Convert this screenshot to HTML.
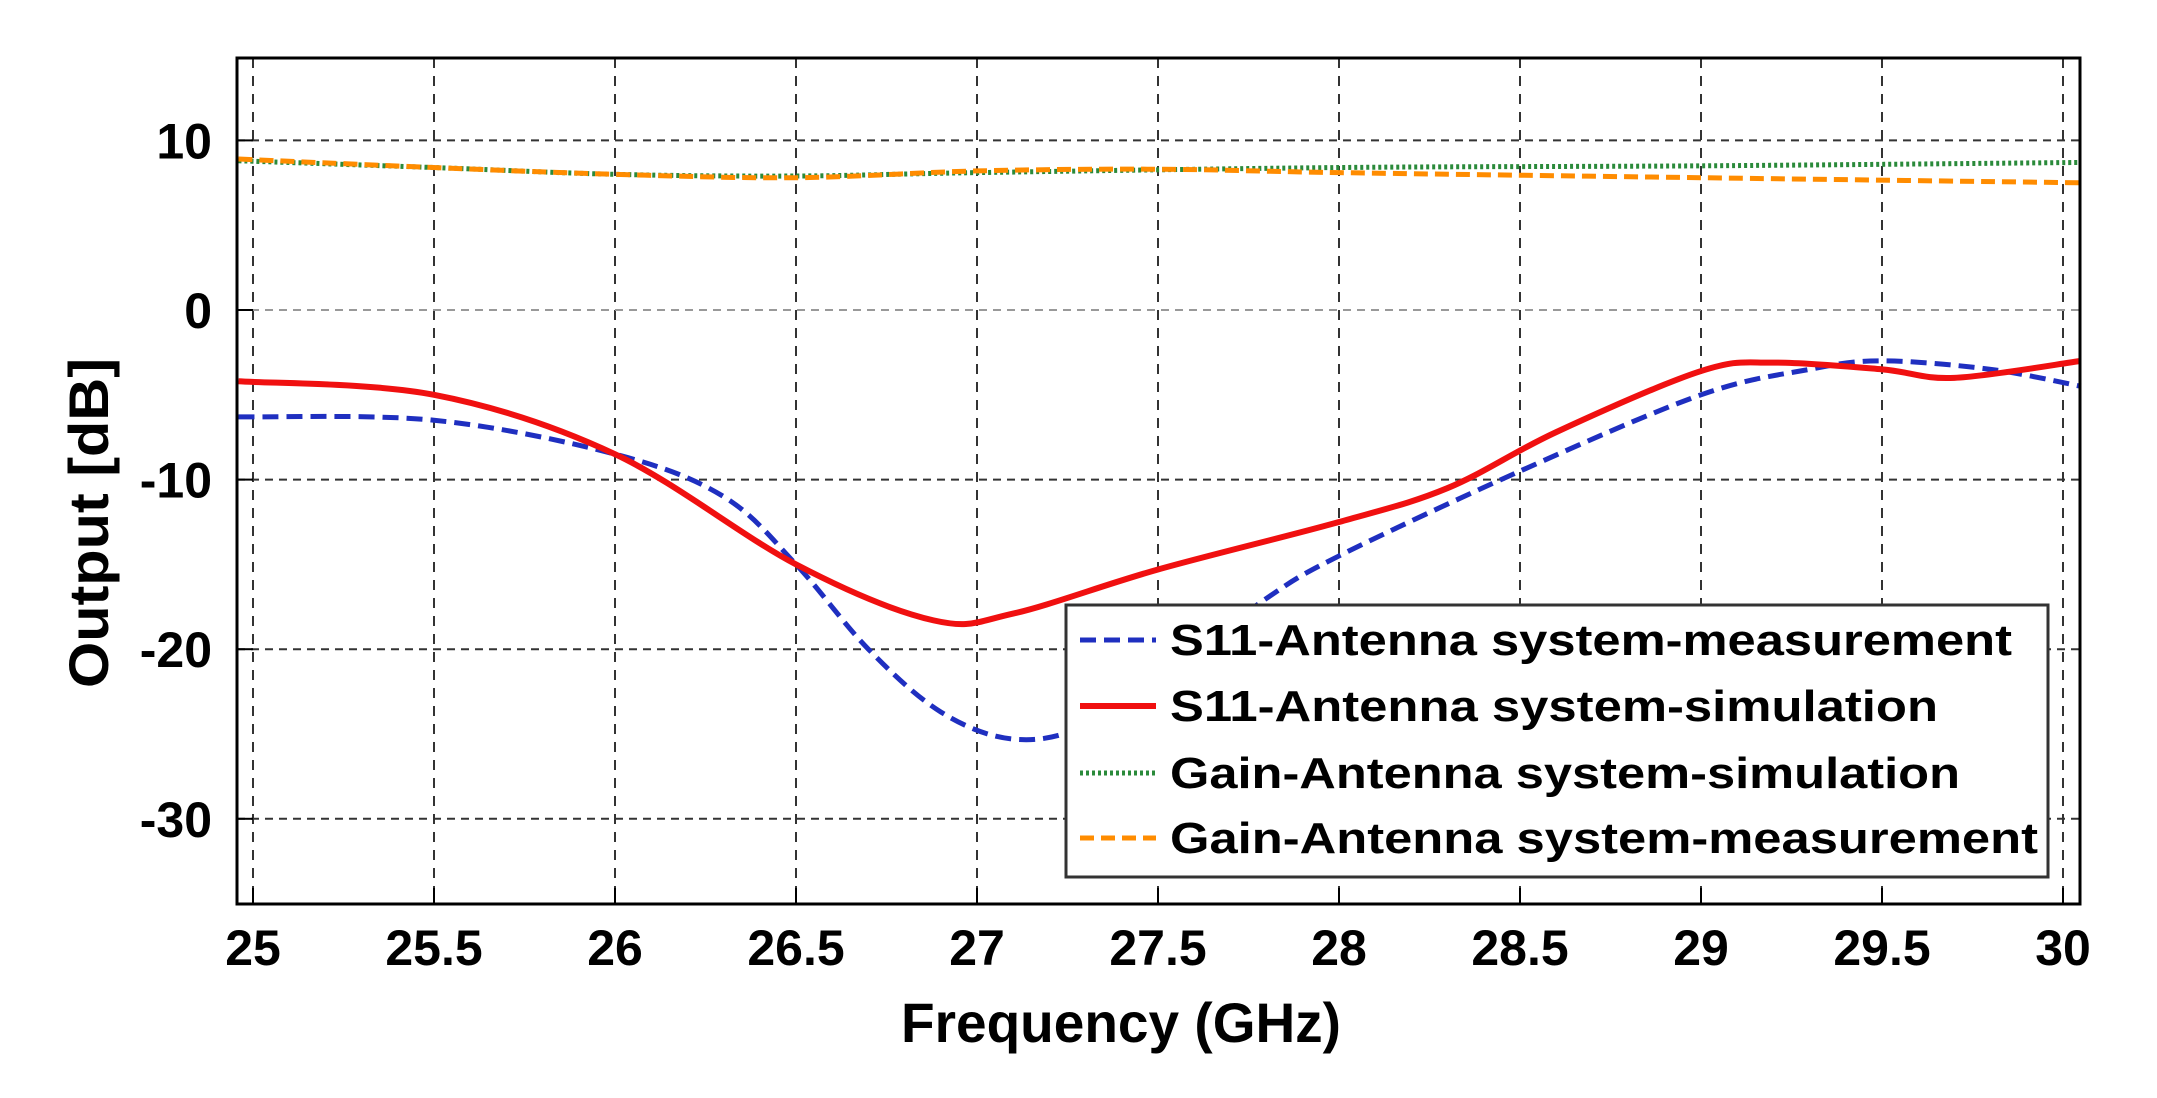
<!DOCTYPE html>
<html><head><meta charset="utf-8"><style>
html,body{margin:0;padding:0;background:#fff;}
svg text{font-family:"Liberation Sans",Arial,sans-serif;font-weight:bold;fill:#000;}
</style></head><body>
<svg id="s" width="2157" height="1093" xmlns="http://www.w3.org/2000/svg">
<rect width="2157" height="1093" fill="#fff"/>
<g id="grid"></g>
<g id="series"></g>
<rect x="237" y="58" width="1843" height="846" fill="none" stroke="#000" stroke-width="3"/>
<g id="ticks"></g>
<g font-size="50" id="labels"></g>
<text x="1121" y="1042" font-size="56" text-anchor="middle" textLength="440" lengthAdjust="spacingAndGlyphs">Frequency (GHz)</text>
<text transform="translate(108,523) rotate(-90)" font-size="56" text-anchor="middle" textLength="330" lengthAdjust="spacingAndGlyphs">Output [dB]</text>
<rect x="1066" y="605" width="982" height="272" fill="#fff" stroke="#333" stroke-width="3"/>
<line x1="1080" y1="640" x2="1156" y2="640" stroke="#1f2fc0" stroke-width="5" stroke-dasharray="16,8"/>
<line x1="1080" y1="706" x2="1156" y2="706" stroke="#f01010" stroke-width="6"/>
<line x1="1080" y1="773" x2="1156" y2="773" stroke="#2a8a3a" stroke-width="5" stroke-dasharray="3,3"/>
<line x1="1080" y1="838" x2="1156" y2="838" stroke="#ff8c00" stroke-width="5" stroke-dasharray="14,7"/>
<text x="1170" y="655" font-size="44" textLength="842" lengthAdjust="spacingAndGlyphs">S11-Antenna system-measurement</text>
<text x="1170" y="721" font-size="44" textLength="768" lengthAdjust="spacingAndGlyphs">S11-Antenna system-simulation</text>
<text x="1170" y="788" font-size="44" textLength="790" lengthAdjust="spacingAndGlyphs">Gain-Antenna system-simulation</text>
<text x="1170" y="853" font-size="44" textLength="868" lengthAdjust="spacingAndGlyphs">Gain-Antenna system-measurement</text>
</svg>
<script>
var NS="http://www.w3.org/2000/svg";
function X(f){return 253+(f-25)*362;}
function Y(d){return 310-d*16.96;}
function el(p,t,a,txt){var e=document.createElementNS(NS,t);for(var k in a)e.setAttribute(k,a[k]);if(txt!=null)e.textContent=txt;document.getElementById(p).appendChild(e);return e;}
for(var f=25;f<=30.01;f+=0.5){el("grid","line",{x1:X(f),y1:58,x2:X(f),y2:904,stroke:"#333","stroke-width":2,"stroke-dasharray":"10,8"});
 el("labels","text",{x:X(f),y:965,"text-anchor":"middle"},(Math.round(f*10)/10).toString());
 el("ticks","line",{x1:X(f),y1:904,x2:X(f),y2:888,stroke:"#000","stroke-width":2});}
for(var d=-30;d<=10;d+=10){el("grid","line",{x1:237,y1:Y(d),x2:2080,y2:Y(d),stroke:d==0?"#999":"#333","stroke-width":2,"stroke-dasharray":"8,6"});
 el("labels","text",{x:212,y:Y(d)+18,"text-anchor":"end"},d.toString());
 el("ticks","line",{x1:237,y1:Y(d),x2:253,y2:Y(d),stroke:"#000","stroke-width":2});}
function path(pts){var p=pts.map(function(a){return[X(a[0]),Y(a[1])];});var s="M"+p[0][0]+","+p[0][1];
 for(var i=0;i<p.length-1;i++){var p0=p[i-1]||p[i],p1=p[i],p2=p[i+1],p3=p[i+2]||p2;
 s+=" C"+(p1[0]+(p2[0]-p0[0])/6)+","+(p1[1]+(p2[1]-p0[1])/6)+" "+(p2[0]-(p3[0]-p1[0])/6)+","+(p2[1]-(p3[1]-p1[1])/6)+" "+p2[0]+","+p2[1];}return s;}
var green=[[24.96,8.8],[25.5,8.4],[26,8],[26.5,7.9],[27,8.1],[28,8.4],[29,8.5],[30.05,8.7]];
var orange=[[24.96,8.9],[25.5,8.4],[26,8],[26.5,7.8],[27,8.2],[27.5,8.3],[28,8.1],[29,7.8],[30.05,7.5]];
var red=[[24.96,-4.2],[25.5,-5],[26,-8.5],[26.5,-15],[26.88,-18.3],[27.1,-17.9],[27.5,-15.3],[28,-12.5],[28.3,-10.5],[28.6,-7.2],[29,-3.6],[29.2,-3.1],[29.5,-3.5],[29.7,-4],[30.05,-3]];
var blue=[[24.96,-6.3],[25.5,-6.5],[26,-8.5],[26.3,-11],[26.5,-15],[26.7,-20],[26.9,-23.7],[27.1,-25.3],[27.3,-24.5],[27.55,-21],[27.8,-17],[28,-14.5],[28.5,-9.5],[29,-5],[29.3,-3.5],[29.5,-3],[29.8,-3.5],[30.05,-4.5]];
el("series","path",{d:path(green),fill:"none",stroke:"#2a8a3a","stroke-width":5,"stroke-dasharray":"3,3"});
el("series","path",{d:path(orange),fill:"none",stroke:"#ff8c00","stroke-width":5,"stroke-dasharray":"14,7"});
el("series","path",{d:path(blue),fill:"none",stroke:"#1f2fc0","stroke-width":5,"stroke-dasharray":"16,8"});
el("series","path",{d:path(red),fill:"none",stroke:"#f01010","stroke-width":6});
</script>
</body></html>
